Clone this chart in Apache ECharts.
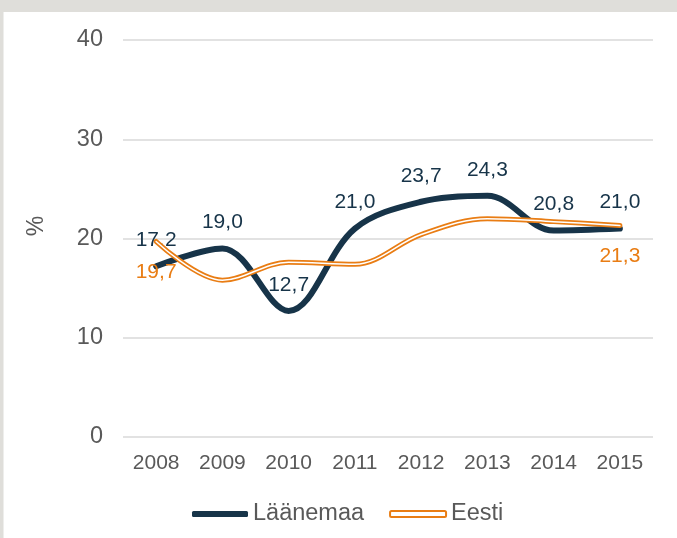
<!DOCTYPE html>
<html>
<head>
<meta charset="utf-8">
<script src="https://cdn.jsdelivr.net/npm/echarts@6/dist/echarts.min.js"></script>
<style>
html,body{margin:0;padding:0;background:#fff;}
#chart{width:677px;height:538px;}
</style>
</head>
<body>
<div id="chart"></div>
<script>
const years = ['2008','2009','2010','2011','2012','2013','2014','2015'];
const laanemaa = [17.2, 19.0, 12.7, 21.0, 23.7, 24.3, 20.8, 21.0];
const eesti = [19.7, 15.8, 17.6, 17.4, 20.4, 22.0, 21.7, 21.3];
const yTicks = [0, 10, 20, 30, 40];
const seriesNames = ['Läänemaa', 'Eesti'];
const unitLabel = '%';

const NAVY = '#173449';
const ORANGE = '#e97d14';
const GREY_TEXT = '#595959';
const FONT = 'Liberation Sans, Arial, sans-serif';
const fmt = v => v.toFixed(1).replace('.', ',');
const SMOOTH = 0.35;

const chart = echarts.init(document.getElementById('chart'), null, {renderer: 'canvas'});
const last = eesti.length - 1;

const option = {
  animation: false,
  backgroundColor: '#ffffff',
  textStyle: {fontFamily: FONT},
  grid: {left: 123, right: 24, top: 40, bottom: 101, containLabel: false},
  xAxis: {
    type: 'category',
    data: years,
    boundaryGap: true,
    axisLine: {show: false},
    axisTick: {show: false},
    axisLabel: {color: GREY_TEXT, fontSize: 21, margin: 16, fontFamily: FONT}
  },
  yAxis: {
    type: 'value',
    min: yTicks[0],
    max: yTicks[yTicks.length - 1],
    interval: yTicks[1] - yTicks[0],
    axisLine: {show: false},
    axisTick: {show: false},
    axisLabel: {color: GREY_TEXT, fontSize: 23.5, margin: 20, fontFamily: FONT},
    splitLine: {lineStyle: {color: '#d9d9d9', width: 1.5}}
  },
  legend: {
    left: 192,
    top: 502,
    padding: 0,
    itemWidth: 56,
    itemHeight: 6,
    itemGap: 25,
    textStyle: {color: GREY_TEXT, fontSize: 23.5, fontFamily: FONT},
    data: [
      {name: seriesNames[0], icon: 'roundRect', itemStyle: {color: NAVY}},
      {name: seriesNames[1], icon: 'roundRect', itemStyle: {color: '#ffffff', borderColor: ORANGE, borderWidth: 2}}
    ]
  },
  graphic: [
    {type: 'rect', left: 0, top: 0, shape: {width: 677, height: 12}, style: {fill: '#dfdeda'}, z: 100},
    {type: 'rect', left: 0, top: 0, shape: {width: 3, height: 538}, style: {fill: '#dfdeda'}, z: 100},
    {type: 'rect', left: 3, top: 12, shape: {width: 1, height: 526}, style: {fill: '#eeeeec'}, z: 100},
    {type: 'text', x: 37, y: 226, rotation: Math.PI / 2,
     style: {text: unitLabel, fill: GREY_TEXT, font: '23px ' + FONT, align: 'center', verticalAlign: 'middle'}}
  ],
  series: [
    {
      name: seriesNames[0],
      type: 'line',
      data: laanemaa,
      smooth: SMOOTH,
      showSymbol: true,
      symbol: 'circle',
      symbolSize: 1,
      itemStyle: {color: 'rgba(0,0,0,0)'},
      lineStyle: {color: NAVY, width: 6, cap: 'round', join: 'round'},
      label: {show: true, position: 'top', distance: 15, color: NAVY, fontSize: 21, fontFamily: FONT,
              formatter: p => fmt(p.value)},
      emphasis: {disabled: true},
      z: 2
    },
    {
      name: seriesNames[1],
      type: 'line',
      data: eesti.map((v, i) => ({value: v, label: {show: i === 0 || i === last}})),
      smooth: SMOOTH,
      showSymbol: true,
      symbol: 'circle',
      symbolSize: 1,
      itemStyle: {color: 'rgba(0,0,0,0)'},
      lineStyle: {color: ORANGE, width: 5, cap: 'round', join: 'round'},
      label: {position: 'bottom', distance: 20, color: ORANGE, fontSize: 21, fontFamily: FONT,
              formatter: p => fmt(p.value)},
      emphasis: {disabled: true},
      z: 3
    },
    {
      name: seriesNames[1] + ' (inner)',
      type: 'line',
      data: eesti,
      smooth: SMOOTH,
      showSymbol: false,
      symbol: 'none',
      silent: true,
      lineStyle: {color: '#ffffff', width: 1.5, cap: 'round', join: 'round'},
      itemStyle: {color: '#ffffff'},
      label: {show: false},
      z: 4
    }
  ]
};
chart.setOption(option);
</script>
</body>
</html>
